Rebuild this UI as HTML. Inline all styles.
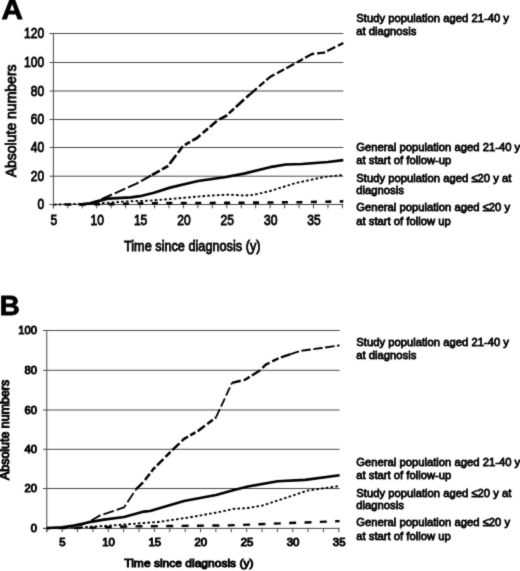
<!DOCTYPE html>
<html><head><meta charset="utf-8"><title>Figure</title>
<style>html,body{margin:0;padding:0;background:#fff;}body{width:520px;height:571px;overflow:hidden;font-family:"Liberation Sans",sans-serif;}svg{display:block}</style>
</head><body>
<svg width="520" height="571" viewBox="0 0 520 571" font-family="'Liberation Sans', sans-serif" fill="#000">
<defs><filter id="soft" color-interpolation-filters="sRGB" x="0" y="0" width="520" height="571" filterUnits="userSpaceOnUse"><feConvolveMatrix order="3" kernelMatrix="0.02 0.09 0.02 0.09 0.56 0.09 0.02 0.09 0.02" divisor="1" edgeMode="duplicate" preserveAlpha="true"/></filter></defs>
<g filter="url(#soft)">
<rect x="-5" y="-5" width="530" height="581" fill="#fff"/>
<line x1="53.4" y1="176.20" x2="343.4" y2="176.20" stroke="#4a4a4a" stroke-width="1"/>
<line x1="53.4" y1="147.50" x2="343.4" y2="147.50" stroke="#4a4a4a" stroke-width="1"/>
<line x1="53.4" y1="119.50" x2="343.4" y2="119.50" stroke="#4a4a4a" stroke-width="1"/>
<line x1="53.4" y1="91.00" x2="343.4" y2="91.00" stroke="#4a4a4a" stroke-width="1"/>
<line x1="53.4" y1="62.50" x2="343.4" y2="62.50" stroke="#4a4a4a" stroke-width="1"/>
<line x1="53.4" y1="33.50" x2="343.4" y2="33.50" stroke="#4a4a4a" stroke-width="1"/>
<line x1="49.6" y1="204.50" x2="53.4" y2="204.50" stroke="#464646" stroke-width="1"/>
<line x1="49.6" y1="176.20" x2="53.4" y2="176.20" stroke="#464646" stroke-width="1"/>
<line x1="49.6" y1="147.50" x2="53.4" y2="147.50" stroke="#464646" stroke-width="1"/>
<line x1="49.6" y1="119.50" x2="53.4" y2="119.50" stroke="#464646" stroke-width="1"/>
<line x1="49.6" y1="91.00" x2="53.4" y2="91.00" stroke="#464646" stroke-width="1"/>
<line x1="49.6" y1="62.50" x2="53.4" y2="62.50" stroke="#464646" stroke-width="1"/>
<line x1="49.6" y1="33.50" x2="53.4" y2="33.50" stroke="#464646" stroke-width="1"/>
<line x1="53.4" y1="33.00" x2="53.4" y2="208.3" stroke="#464646" stroke-width="1"/>
<line x1="49.6" y1="204.5" x2="343.4" y2="204.5" stroke="#464646" stroke-width="1"/>
<line x1="53.40" y1="204.5" x2="53.40" y2="208.3" stroke="#464646" stroke-width="1"/>
<line x1="67.85" y1="204.5" x2="67.85" y2="208.3" stroke="#464646" stroke-width="1"/>
<line x1="82.30" y1="204.5" x2="82.30" y2="208.3" stroke="#464646" stroke-width="1"/>
<line x1="96.75" y1="204.5" x2="96.75" y2="208.3" stroke="#464646" stroke-width="1"/>
<line x1="111.20" y1="204.5" x2="111.20" y2="208.3" stroke="#464646" stroke-width="1"/>
<line x1="125.65" y1="204.5" x2="125.65" y2="208.3" stroke="#464646" stroke-width="1"/>
<line x1="140.10" y1="204.5" x2="140.10" y2="208.3" stroke="#464646" stroke-width="1"/>
<line x1="154.55" y1="204.5" x2="154.55" y2="208.3" stroke="#464646" stroke-width="1"/>
<line x1="169.00" y1="204.5" x2="169.00" y2="208.3" stroke="#464646" stroke-width="1"/>
<line x1="183.45" y1="204.5" x2="183.45" y2="208.3" stroke="#464646" stroke-width="1"/>
<line x1="197.90" y1="204.5" x2="197.90" y2="208.3" stroke="#464646" stroke-width="1"/>
<line x1="212.35" y1="204.5" x2="212.35" y2="208.3" stroke="#464646" stroke-width="1"/>
<line x1="226.80" y1="204.5" x2="226.80" y2="208.3" stroke="#464646" stroke-width="1"/>
<line x1="241.25" y1="204.5" x2="241.25" y2="208.3" stroke="#464646" stroke-width="1"/>
<line x1="255.70" y1="204.5" x2="255.70" y2="208.3" stroke="#464646" stroke-width="1"/>
<line x1="270.15" y1="204.5" x2="270.15" y2="208.3" stroke="#464646" stroke-width="1"/>
<line x1="284.60" y1="204.5" x2="284.60" y2="208.3" stroke="#464646" stroke-width="1"/>
<line x1="299.05" y1="204.5" x2="299.05" y2="208.3" stroke="#464646" stroke-width="1"/>
<line x1="313.50" y1="204.5" x2="313.50" y2="208.3" stroke="#464646" stroke-width="1"/>
<line x1="327.95" y1="204.5" x2="327.95" y2="208.3" stroke="#464646" stroke-width="1"/>
<line x1="342.40" y1="204.5" x2="342.40" y2="208.3" stroke="#464646" stroke-width="1"/>
<line x1="46.8" y1="488.50" x2="339.6" y2="488.50" stroke="#4a4a4a" stroke-width="1"/>
<line x1="46.8" y1="449.30" x2="339.6" y2="449.30" stroke="#4a4a4a" stroke-width="1"/>
<line x1="46.8" y1="410.00" x2="339.6" y2="410.00" stroke="#4a4a4a" stroke-width="1"/>
<line x1="46.8" y1="370.30" x2="339.6" y2="370.30" stroke="#4a4a4a" stroke-width="1"/>
<line x1="46.8" y1="330.50" x2="339.6" y2="330.50" stroke="#4a4a4a" stroke-width="1"/>
<line x1="43.0" y1="528.40" x2="46.8" y2="528.40" stroke="#464646" stroke-width="1"/>
<line x1="43.0" y1="488.50" x2="46.8" y2="488.50" stroke="#464646" stroke-width="1"/>
<line x1="43.0" y1="449.30" x2="46.8" y2="449.30" stroke="#464646" stroke-width="1"/>
<line x1="43.0" y1="410.00" x2="46.8" y2="410.00" stroke="#464646" stroke-width="1"/>
<line x1="43.0" y1="370.30" x2="46.8" y2="370.30" stroke="#464646" stroke-width="1"/>
<line x1="43.0" y1="330.50" x2="46.8" y2="330.50" stroke="#464646" stroke-width="1"/>
<line x1="46.8" y1="330.00" x2="46.8" y2="532.1999999999999" stroke="#464646" stroke-width="1"/>
<line x1="43.0" y1="528.4" x2="339.6" y2="528.4" stroke="#464646" stroke-width="1"/>
<line x1="46.80" y1="528.4" x2="46.80" y2="532.1999999999999" stroke="#464646" stroke-width="1"/>
<line x1="62.17" y1="528.4" x2="62.17" y2="532.1999999999999" stroke="#464646" stroke-width="1"/>
<line x1="77.54" y1="528.4" x2="77.54" y2="532.1999999999999" stroke="#464646" stroke-width="1"/>
<line x1="92.91" y1="528.4" x2="92.91" y2="532.1999999999999" stroke="#464646" stroke-width="1"/>
<line x1="108.28" y1="528.4" x2="108.28" y2="532.1999999999999" stroke="#464646" stroke-width="1"/>
<line x1="123.65" y1="528.4" x2="123.65" y2="532.1999999999999" stroke="#464646" stroke-width="1"/>
<line x1="139.02" y1="528.4" x2="139.02" y2="532.1999999999999" stroke="#464646" stroke-width="1"/>
<line x1="154.39" y1="528.4" x2="154.39" y2="532.1999999999999" stroke="#464646" stroke-width="1"/>
<line x1="169.76" y1="528.4" x2="169.76" y2="532.1999999999999" stroke="#464646" stroke-width="1"/>
<line x1="185.13" y1="528.4" x2="185.13" y2="532.1999999999999" stroke="#464646" stroke-width="1"/>
<line x1="200.50" y1="528.4" x2="200.50" y2="532.1999999999999" stroke="#464646" stroke-width="1"/>
<line x1="215.87" y1="528.4" x2="215.87" y2="532.1999999999999" stroke="#464646" stroke-width="1"/>
<line x1="231.24" y1="528.4" x2="231.24" y2="532.1999999999999" stroke="#464646" stroke-width="1"/>
<line x1="246.61" y1="528.4" x2="246.61" y2="532.1999999999999" stroke="#464646" stroke-width="1"/>
<line x1="261.98" y1="528.4" x2="261.98" y2="532.1999999999999" stroke="#464646" stroke-width="1"/>
<line x1="277.35" y1="528.4" x2="277.35" y2="532.1999999999999" stroke="#464646" stroke-width="1"/>
<line x1="292.72" y1="528.4" x2="292.72" y2="532.1999999999999" stroke="#464646" stroke-width="1"/>
<line x1="308.09" y1="528.4" x2="308.09" y2="532.1999999999999" stroke="#464646" stroke-width="1"/>
<line x1="323.46" y1="528.4" x2="323.46" y2="532.1999999999999" stroke="#464646" stroke-width="1"/>
<line x1="338.83" y1="528.4" x2="338.83" y2="532.1999999999999" stroke="#464646" stroke-width="1"/>
<polyline points="65.2,204.5 110.0,204.2 150.0,203.2 240.0,202.8 300.0,202.2 343.3,201.4" fill="none" stroke="#000" stroke-width="2.6" stroke-dasharray="6 8.45"/>
<polyline points="54.0,204.6 100.0,203.4 125.0,201.5 150.0,200.6 170.0,199.0 184.0,197.8 200.0,196.4 210.0,195.6 230.0,194.6 244.0,195.6 254.0,194.8 270.0,191.0 296.0,183.0 324.0,177.0 343.3,175.0" fill="none" stroke="#000" stroke-width="1.9" stroke-dasharray="2.6 2.2"/>
<polyline points="79.0,204.6 90.0,203.4 97.0,201.4 108.0,198.7 131.0,197.3 140.0,196.2 154.0,192.7 170.0,187.6 198.0,181.0 226.0,177.0 244.0,173.6 270.0,167.2 286.0,164.5 302.0,164.0 328.0,162.0 343.3,160.2" fill="none" stroke="#000" stroke-width="2.7" stroke-linejoin="round"/>
<polyline points="88.0,204.2 93.0,203.2 96.0,201.6 107.7,196.5 136.5,183.6 152.0,175.0" fill="none" stroke="#000" stroke-width="2.1" stroke-dasharray="11.5 3" stroke-linejoin="round"/>
<polyline points="152.0,175.0 168.0,166.0 183.0,146.0 197.0,138.0 218.0,120.0 226.0,116.0 244.0,99.5 250.0,94.3" fill="none" stroke="#000" stroke-width="2.6" stroke-dasharray="9 2.5 7 2.5 11 3 8 2.5 6 2.5 10 3 7 2.5 9 3" stroke-linejoin="round"/>
<polyline points="250.0,94.3 270.0,77.0 294.0,64.0 312.0,54.0 324.0,52.6 343.3,43.0" fill="none" stroke="#000" stroke-width="2.3" stroke-dasharray="9 3 7 2.5 10 3 8 2.5" stroke-linejoin="round"/>
<polyline points="46.8,528.2 90.0,527.8 130.0,526.4 228.8,525.4 339.6,521.1" fill="none" stroke="#000" stroke-width="2.4" stroke-dasharray="7 8.37" stroke-dashoffset="3.5"/>
<polyline points="46.8,528.1 80.0,527.4 110.0,525.6 144.0,523.0 158.0,522.0 190.0,517.3 218.0,512.3 234.0,508.8 247.9,508.0 262.2,505.6 283.7,498.5 307.5,490.6 339.6,486.0" fill="none" stroke="#000" stroke-width="1.9" stroke-dasharray="2.6 2.2"/>
<polyline points="46.8,528.0 62.0,527.4 74.0,525.6 88.0,522.4 104.0,519.6 124.0,517.0 144.0,511.6 150.0,511.0 184.0,501.0 216.0,495.0 234.0,490.0 247.9,486.5 277.7,481.3 305.1,479.9 339.6,475.3" fill="none" stroke="#000" stroke-width="2.6" stroke-linejoin="round"/>
<polyline points="78.0,525.6 80.0,525.4 88.0,522.4 100.0,515.4 124.0,507.4 136.0,489.4" fill="none" stroke="#000" stroke-width="1.8" stroke-dasharray="11 3" stroke-linejoin="round"/>
<polyline points="136.0,489.4 144.0,481.4 153.0,469.4 170.0,452.4 184.0,438.9 198.0,430.9 216.0,417.4" fill="none" stroke="#000" stroke-width="2.5" stroke-dasharray="10 3 8 2.5 6 2.5 9 3 7 2.5" stroke-linejoin="round"/>
<polyline points="216.0,417.4 232.0,382.9" fill="none" stroke="#000" stroke-width="1.8" stroke-dasharray="9 3" stroke-linejoin="round"/>
<polyline points="232.0,382.9 245.5,379.6 259.8,370.5 265.8,364.6 278.9,358.1 290.0,354.4" fill="none" stroke="#000" stroke-width="2.4" stroke-dasharray="9 3 7 2.5 10 3" stroke-linejoin="round"/>
<polyline points="290.0,354.4 300.4,350.9 319.5,348.3 339.6,345.4" fill="none" stroke="#000" stroke-width="1.9" stroke-dasharray="9.5 2.5" stroke-linejoin="round"/>
<text transform="translate(1.40,18.90) scale(1.06,1)" font-size="28" text-anchor="start" font-weight="bold" stroke="#000" stroke-width="0.8">A</text>
<text transform="translate(-0.30,315.20) scale(0.99,1)" font-size="28" text-anchor="start" font-weight="bold" stroke="#000" stroke-width="0.8">B</text>
<text transform="translate(44.10,209.10) scale(0.86,1)" font-size="14" text-anchor="end" font-weight="normal" stroke="#000" stroke-width="0.85">0</text>
<text transform="translate(44.10,180.80) scale(0.86,1)" font-size="14" text-anchor="end" font-weight="normal" stroke="#000" stroke-width="0.85">20</text>
<text transform="translate(44.10,152.10) scale(0.86,1)" font-size="14" text-anchor="end" font-weight="normal" stroke="#000" stroke-width="0.85">40</text>
<text transform="translate(44.10,124.10) scale(0.86,1)" font-size="14" text-anchor="end" font-weight="normal" stroke="#000" stroke-width="0.85">60</text>
<text transform="translate(44.10,95.60) scale(0.86,1)" font-size="14" text-anchor="end" font-weight="normal" stroke="#000" stroke-width="0.85">80</text>
<text transform="translate(44.10,67.10) scale(0.86,1)" font-size="14" text-anchor="end" font-weight="normal" stroke="#000" stroke-width="0.85">100</text>
<text transform="translate(44.10,38.10) scale(0.86,1)" font-size="14" text-anchor="end" font-weight="normal" stroke="#000" stroke-width="0.85">120</text>
<text transform="translate(53.90,225.40) scale(0.86,1)" font-size="14" text-anchor="middle" font-weight="normal" stroke="#000" stroke-width="0.85">5</text>
<text transform="translate(97.25,225.40) scale(0.86,1)" font-size="14" text-anchor="middle" font-weight="normal" stroke="#000" stroke-width="0.85">10</text>
<text transform="translate(140.60,225.40) scale(0.86,1)" font-size="14" text-anchor="middle" font-weight="normal" stroke="#000" stroke-width="0.85">15</text>
<text transform="translate(183.95,225.40) scale(0.86,1)" font-size="14" text-anchor="middle" font-weight="normal" stroke="#000" stroke-width="0.85">20</text>
<text transform="translate(227.30,225.40) scale(0.86,1)" font-size="14" text-anchor="middle" font-weight="normal" stroke="#000" stroke-width="0.85">25</text>
<text transform="translate(270.65,225.40) scale(0.86,1)" font-size="14" text-anchor="middle" font-weight="normal" stroke="#000" stroke-width="0.85">30</text>
<text transform="translate(314.00,225.40) scale(0.86,1)" font-size="14" text-anchor="middle" font-weight="normal" stroke="#000" stroke-width="0.85">35</text>
<text transform="translate(124.00,250.70) scale(0.908,1)" font-size="14" text-anchor="start" font-weight="normal" stroke="#000" stroke-width="0.8">Time since diagnosis (y)</text>
<text transform="translate(15.6,177.3) rotate(-90) scale(0.96,1)" font-size="14.6" stroke="#000" stroke-width="0.85">Absolute numbers</text>
<text transform="translate(37.00,531.90) scale(0.95,1)" font-size="11.8" text-anchor="end" font-weight="normal" stroke="#000" stroke-width="1.0">0</text>
<text transform="translate(37.00,492.00) scale(0.95,1)" font-size="11.8" text-anchor="end" font-weight="normal" stroke="#000" stroke-width="1.0">20</text>
<text transform="translate(37.00,452.80) scale(0.95,1)" font-size="11.8" text-anchor="end" font-weight="normal" stroke="#000" stroke-width="1.0">40</text>
<text transform="translate(37.00,413.50) scale(0.95,1)" font-size="11.8" text-anchor="end" font-weight="normal" stroke="#000" stroke-width="1.0">60</text>
<text transform="translate(37.00,373.80) scale(0.95,1)" font-size="11.8" text-anchor="end" font-weight="normal" stroke="#000" stroke-width="1.0">80</text>
<text transform="translate(37.00,334.00) scale(0.95,1)" font-size="11.8" text-anchor="end" font-weight="normal" stroke="#000" stroke-width="1.0">100</text>
<text transform="translate(62.50,545.60) scale(0.97,1)" font-size="11.8" text-anchor="middle" font-weight="normal" stroke="#000" stroke-width="1.0">5</text>
<text transform="translate(108.62,545.60) scale(0.97,1)" font-size="11.8" text-anchor="middle" font-weight="normal" stroke="#000" stroke-width="1.0">10</text>
<text transform="translate(154.74,545.60) scale(0.97,1)" font-size="11.8" text-anchor="middle" font-weight="normal" stroke="#000" stroke-width="1.0">15</text>
<text transform="translate(200.86,545.60) scale(0.97,1)" font-size="11.8" text-anchor="middle" font-weight="normal" stroke="#000" stroke-width="1.0">20</text>
<text transform="translate(246.98,545.60) scale(0.97,1)" font-size="11.8" text-anchor="middle" font-weight="normal" stroke="#000" stroke-width="1.0">25</text>
<text transform="translate(293.10,545.60) scale(0.97,1)" font-size="11.8" text-anchor="middle" font-weight="normal" stroke="#000" stroke-width="1.0">30</text>
<text transform="translate(339.22,545.60) scale(0.97,1)" font-size="11.8" text-anchor="middle" font-weight="normal" stroke="#000" stroke-width="1.0">35</text>
<text transform="translate(124.30,567.00) scale(1.02,1)" font-size="11.8" text-anchor="start" font-weight="normal" stroke="#000" stroke-width="1.0">Time since diagnosis (y)</text>
<text transform="translate(9.2,480) rotate(-90) scale(1.02,1)" font-size="12.2" stroke="#000" stroke-width="1.0">Absolute numbers</text>
<text transform="translate(356.30,22.30) scale(0.963,1)" font-size="11.7" text-anchor="start" font-weight="normal" stroke="#000" stroke-width="0.78">Study population aged 21-40 y</text>
<text transform="translate(356.30,35.30) scale(0.963,1)" font-size="11.7" text-anchor="start" font-weight="normal" stroke="#000" stroke-width="0.78">at diagnosis</text>
<text transform="translate(356.30,151.40) scale(0.963,1)" font-size="11.7" text-anchor="start" font-weight="normal" stroke="#000" stroke-width="0.78">General population aged 21-40 y</text>
<text transform="translate(356.30,164.40) scale(0.963,1)" font-size="11.7" text-anchor="start" font-weight="normal" stroke="#000" stroke-width="0.78">at start of follow-up</text>
<text transform="translate(356.30,181.50) scale(0.963,1)" font-size="11.7" text-anchor="start" font-weight="normal" stroke="#000" stroke-width="0.78">Study population aged ≤20 y at</text>
<text transform="translate(356.30,194.40) scale(0.963,1)" font-size="11.7" text-anchor="start" font-weight="normal" stroke="#000" stroke-width="0.78">diagnosis</text>
<text transform="translate(356.30,211.00) scale(0.963,1)" font-size="11.7" text-anchor="start" font-weight="normal" stroke="#000" stroke-width="0.78">General population aged ≤20 y</text>
<text transform="translate(356.30,224.50) scale(0.963,1)" font-size="11.7" text-anchor="start" font-weight="normal" stroke="#000" stroke-width="0.78">at start of follow up</text>
<text transform="translate(356.30,346.20) scale(0.963,1)" font-size="11.7" text-anchor="start" font-weight="normal" stroke="#000" stroke-width="0.78">Study population aged 21-40 y</text>
<text transform="translate(356.30,359.40) scale(0.963,1)" font-size="11.7" text-anchor="start" font-weight="normal" stroke="#000" stroke-width="0.78">at diagnosis</text>
<text transform="translate(356.30,466.40) scale(0.963,1)" font-size="11.7" text-anchor="start" font-weight="normal" stroke="#000" stroke-width="0.78">General population aged 21-40 y</text>
<text transform="translate(356.30,479.40) scale(0.963,1)" font-size="11.7" text-anchor="start" font-weight="normal" stroke="#000" stroke-width="0.78">at start of follow-up</text>
<text transform="translate(356.30,496.50) scale(0.963,1)" font-size="11.7" text-anchor="start" font-weight="normal" stroke="#000" stroke-width="0.78">Study population aged ≤20 y at</text>
<text transform="translate(356.30,509.40) scale(0.963,1)" font-size="11.7" text-anchor="start" font-weight="normal" stroke="#000" stroke-width="0.78">diagnosis</text>
<text transform="translate(356.30,526.00) scale(0.963,1)" font-size="11.7" text-anchor="start" font-weight="normal" stroke="#000" stroke-width="0.78">General population aged ≤20 y</text>
<text transform="translate(356.30,539.50) scale(0.963,1)" font-size="11.7" text-anchor="start" font-weight="normal" stroke="#000" stroke-width="0.78">at start of follow up</text>
</g></svg>
</body></html>
